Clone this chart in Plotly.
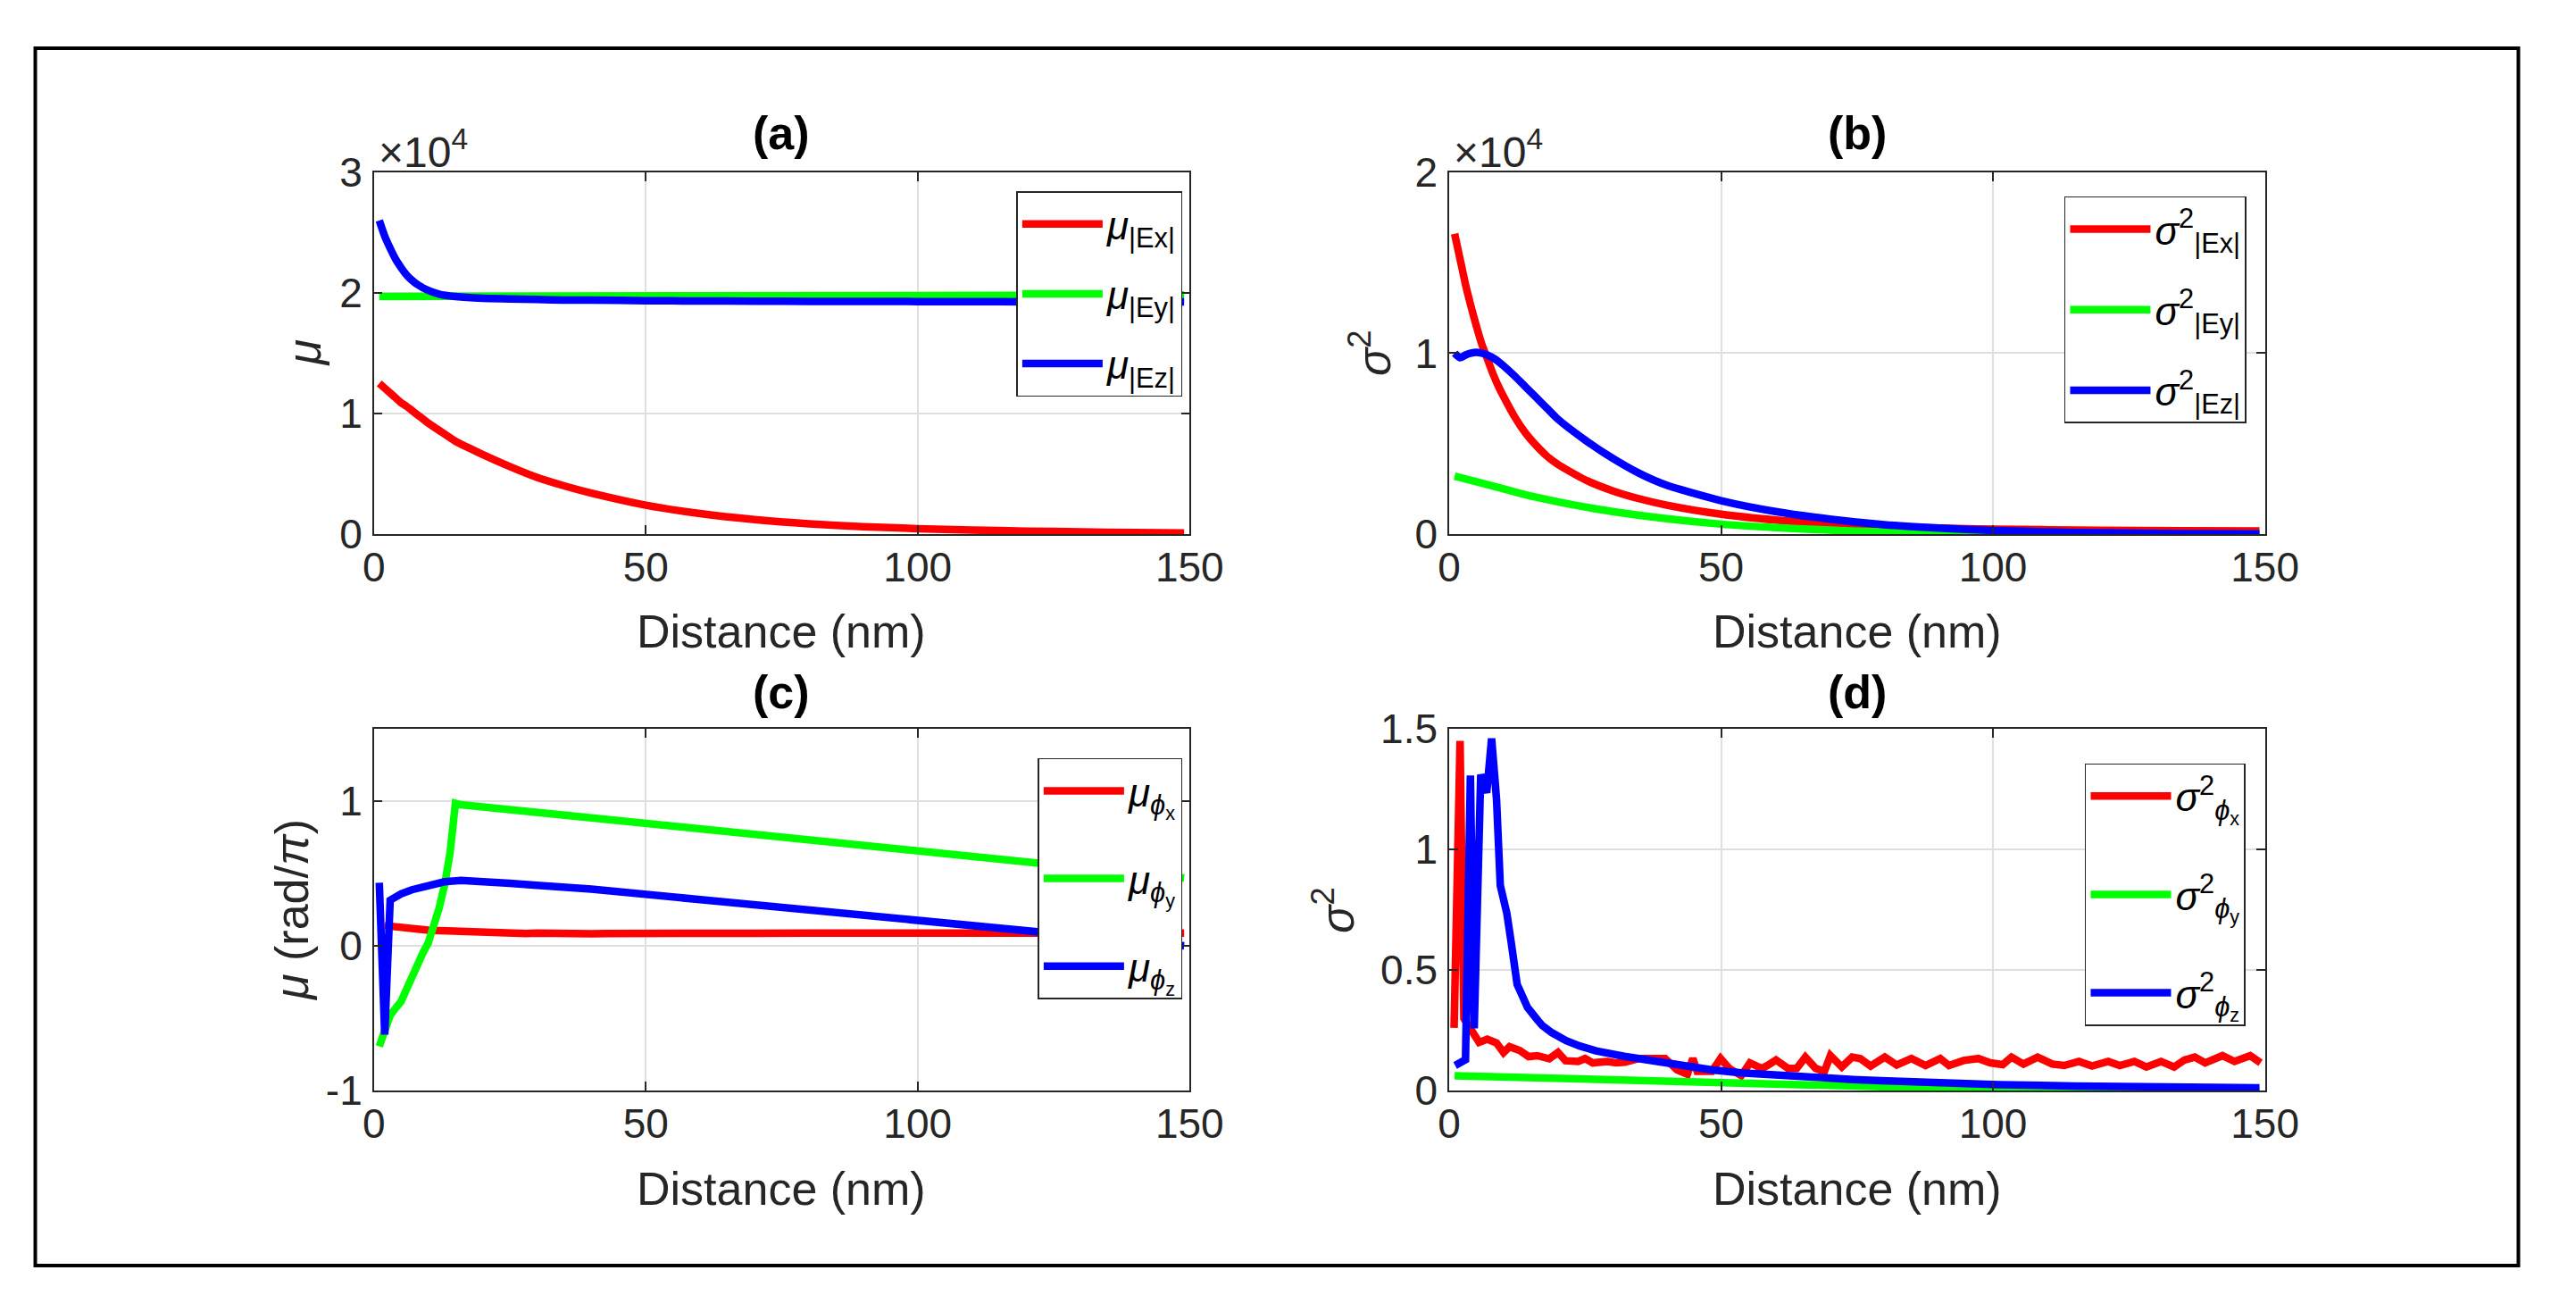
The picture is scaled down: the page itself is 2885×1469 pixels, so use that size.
import plotly.graph_objects as go

W, H = 2885, 1469
FONT = "Liberation Sans, Arial, sans-serif"
AXC = "#262626"

RED, GREEN, BLUE = "#ff0000", "#00ff00", "#0000ff"

## Data

# (a) mean of |E| components (axis labelled in units of 1e4)
x_a = [1, 2, 3, 4, 5, 6, 7, 8, 10, 12, 15, 20, 25, 30, 35, 40, 50, 60, 70, 80, 90, 100, 110, 120, 130, 140, 149]
mu_ex = [12500, 12100, 11700, 11300, 10900, 10600, 10250, 9900, 9200, 8600, 7700, 6600, 5600, 4700, 4000, 3400,
         2400, 1700, 1200, 850, 620, 450, 330, 250, 180, 130, 100]
x_a_ey = [1, 50, 100, 149]
mu_ey = [19700, 19750, 19800, 19820]
mu_ez = [26000, 24700, 23700, 22800, 22100, 21500, 21050, 20700, 20200, 19900, 19700, 19550, 19500, 19450, 19400,
         19400, 19350, 19330, 19310, 19300, 19290, 19280, 19270, 19260, 19250, 19250, 19250]

# (b) variance of |E| components (units of 1e4 on the axis)
x_b = [1, 2, 3, 4, 5, 6, 7, 8, 9, 10, 12, 14, 16, 18, 20, 25, 30, 35, 40, 50, 60, 70, 80, 90, 100, 110, 120, 135, 149]
var_ex = [16600, 15200, 13800, 12600, 11500, 10500, 9700, 8900, 8200, 7600, 6500, 5600, 4900, 4300, 3850, 3000,
          2400, 1950, 1600, 1100, 780, 560, 420, 330, 270, 240, 210, 190, 170]
var_ez = [10000, 9750, 9900, 10000, 10050, 10000, 9900, 9750, 9550, 9300, 8750, 8150, 7550, 6950, 6350, 5200,
          4200, 3350, 2700, 1850, 1250, 830, 520, 330, 200, 120, 70, 30, 10]
x_b_ey = [1, 5, 10, 15, 20, 25, 30, 40, 50, 60, 70, 80, 90, 100, 120, 149]
var_ey = [3200, 2900, 2500, 2100, 1780, 1500, 1250, 850, 550, 360, 220, 120, 60, 20, 0, 0]

# (c) mean phase (rad/pi)
x_c_x = [2, 3, 4, 5, 7, 10, 12, 15, 18, 20, 23, 25, 28, 30, 33, 36, 38, 40, 43, 46, 50, 55, 60, 70, 80, 100, 120, 149]
mu_phx = [0.14, 0.136, 0.13, 0.122, 0.112, 0.108, 0.106, 0.10, 0.096, 0.098, 0.09, 0.092, 0.086, 0.088, 0.083,
          0.082, 0.078, 0.084, 0.086, 0.085, 0.088, 0.086, 0.088, 0.087, 0.088, 0.088, 0.087, 0.088]
x_c_y = [1, 2, 3, 4, 5, 6, 7, 8, 9, 10, 11, 12, 13, 14, 15, 16, 40, 80, 120, 149]
mu_phy = [-0.694, -0.58, -0.48, -0.43, -0.385, -0.30, -0.21, -0.13, -0.05, 0.02, 0.13, 0.26, 0.42, 0.64, 0.985,
          0.975, 0.885, 0.73, 0.58, 0.47]
x_c_z = [1, 2, 3, 4, 5, 7, 10, 13, 16, 20, 25, 30, 40, 60, 80, 100, 120, 140, 149]
mu_phz = [0.436, -0.613, 0.316, 0.342, 0.36, 0.388, 0.422, 0.443, 0.452, 0.447, 0.432, 0.418, 0.392, 0.32, 0.245,
          0.172, 0.103, 0.033, 0.0]

# (d) phase variance
x_d_x = [0.9, 1.4, 2.0, 2.7, 3.5, 4.1, 5.5, 7.0, 8.7, 10.0, 11.1, 13.0, 14.6, 16.2, 18.4, 20.0, 21.4, 23.7, 25.0,
         26.4, 29.1, 30.7, 32.3, 34.9, 37.6, 39.7, 41.9, 43.8, 44.8, 45.6, 48.3, 49.9, 51.5, 53.7, 55.3, 57.5,
         58.5, 60.1, 62.3, 63.9, 65.5, 67.4, 69.0, 70.1, 72.2, 74.1, 75.6, 77.5, 80.1, 82.3, 85.0, 87.6, 90.3,
         91.9, 94.6, 97.3, 99.5, 101.8, 103.4, 105.6, 108.2, 110.9, 113.1, 115.8, 118.2, 121.2, 123.3, 126.0,
         128.2, 130.9, 133.3, 135.2, 137.1, 139.0, 142.2, 144.4, 147.3, 149.2]
var_phx = [0.26, 0.85, 1.45, 0.30, 0.27, 0.25, 0.20, 0.213, 0.198, 0.158, 0.182, 0.166, 0.141, 0.145, 0.132, 0.158,
           0.124, 0.121, 0.133, 0.115, 0.121, 0.115, 0.118, 0.133, 0.137, 0.133, 0.086, 0.068, 0.133, 0.08, 0.08,
           0.133, 0.092, 0.062, 0.115, 0.092, 0.104, 0.127, 0.092, 0.092, 0.139, 0.092, 0.08, 0.145, 0.098, 0.139,
           0.133, 0.102, 0.139, 0.106, 0.133, 0.104, 0.133, 0.104, 0.125, 0.133, 0.115, 0.108, 0.139, 0.11, 0.139,
           0.11, 0.104, 0.121, 0.102, 0.121, 0.104, 0.121, 0.098, 0.121, 0.098, 0.127, 0.139, 0.115, 0.145, 0.121,
           0.145, 0.115]
x_d_y = [1, 10, 20, 30, 40, 50, 60, 70, 80, 90, 100, 112, 125, 149]
var_phy = [0.062, 0.056, 0.05, 0.045, 0.038, 0.031, 0.025, 0.019, 0.014, 0.01, 0.006, 0.003, 0.001, 0.0]
x_d_z = [1.1, 2.0, 3.0, 3.9, 4.6, 5.8, 6.9, 7.8, 8.7, 9.4, 10.6, 11.4, 12.5, 13.3, 14.4, 16.2, 17.1, 18.9, 21.5,
         24, 27, 32.2, 37.7, 43, 48.4, 53.7, 59.1, 64.5, 69.8, 74.3, 79.4, 90, 101.2, 115, 128.2, 140, 149]
var_phz = [0.104, 0.112, 0.128, 1.306, 0.258, 1.31, 1.235, 1.46, 1.21, 0.85, 0.735, 0.615, 0.44, 0.40, 0.345,
           0.294, 0.27, 0.24, 0.207, 0.185, 0.165, 0.142, 0.121, 0.101, 0.086, 0.074, 0.065, 0.056, 0.048, 0.046,
           0.041, 0.031, 0.025, 0.019, 0.015, 0.013, 0.012]

x_ticks = [0, 50, 100, 150]

## Layout geometry (pixels in the 2885x1469 picture)
def px(x):
    return x / W

def py(y):
    return 1 - y / H

col_x = [(413, 1343), (1639, 2569)]
row_y = [(173, 593), (819, 1239)]

LW = 8.5
fig = go.Figure()

panels = [
    # (xaxis, yaxis, legend, traces)
    ("x", "y", "legend", [
        (x_a, mu_ex, RED, "<i>μ</i><sub>|Ex|</sub>", "spline"),
        (x_a_ey, mu_ey, GREEN, "<i>μ</i><sub>|Ey|</sub>", "linear"),
        (x_a, mu_ez, BLUE, "<i>μ</i><sub>|Ez|</sub>", "spline"),
    ]),
    ("x2", "y2", "legend2", [
        (x_b, var_ex, RED, "<i>σ</i><sup>2</sup><sub>|Ex|</sub>", "spline"),
        (x_b_ey, var_ey, GREEN, "<i>σ</i><sup>2</sup><sub>|Ey|</sub>", "spline"),
        (x_b, var_ez, BLUE, "<i>σ</i><sup>2</sup><sub>|Ez|</sub>", "spline"),
    ]),
    ("x3", "y3", "legend3", [
        (x_c_x, mu_phx, RED, "<i>μ</i><sub><i>ϕ</i><sub>x</sub></sub>", "linear"),
        (x_c_y, mu_phy, GREEN, "<i>μ</i><sub><i>ϕ</i><sub>y</sub></sub>", "linear"),
        (x_c_z, mu_phz, BLUE, "<i>μ</i><sub><i>ϕ</i><sub>z</sub></sub>", "linear"),
    ]),
    ("x4", "y4", "legend4", [
        (x_d_x, var_phx, RED, "<i>σ</i><sup>2</sup><sub><i>ϕ</i><sub>x</sub></sub>", "linear"),
        (x_d_y, var_phy, GREEN, "<i>σ</i><sup>2</sup><sub><i>ϕ</i><sub>y</sub></sub>", "linear"),
        (x_d_z, var_phz, BLUE, "<i>σ</i><sup>2</sup><sub><i>ϕ</i><sub>z</sub></sub>", "linear"),
    ]),
]

for xa, ya, leg, traces in panels:
    for i, (xs, ys, c, name, shape) in enumerate(traces):
        fig.add_trace(go.Scatter(x=xs, y=ys, mode="lines", name=name, xaxis=xa, yaxis=ya,
                                 line=dict(color=c, width=LW, shape=shape, smoothing=0.6),
                                 legend=leg, legendgroup=leg + str(i), showlegend=True))

ax_style = dict(showline=True, linecolor=AXC, linewidth=1.5, mirror="allticks", ticks="inside", ticklen=10,
                tickwidth=1.5, tickcolor=AXC, showgrid=True, gridcolor="#dfdfdf", gridwidth=1.5,
                zeroline=False, tickfont=dict(family=FONT, size=46, color=AXC))
xa_style = dict(ticklabelstandoff=-4, **ax_style)
ya_style = dict(ticklabelstandoff=2, **ax_style)

def xdom(c):
    return [px(col_x[c][0]), px(col_x[c][1])]

def ydom(r):
    return [py(row_y[r][1]), py(row_y[r][0])]

layout_axes = dict(
    xaxis=dict(domain=xdom(0), anchor="y", range=[0, 150], tickvals=x_ticks, **xa_style),
    yaxis=dict(domain=ydom(0), anchor="x", range=[0, 30000], tickvals=[0, 10000, 20000, 30000],
               ticktext=["0", "1", "2", "3"], **ya_style),
    xaxis2=dict(domain=xdom(1), anchor="y2", range=[0, 150], tickvals=x_ticks, **xa_style),
    yaxis2=dict(domain=ydom(0), anchor="x2", range=[0, 20000], tickvals=[0, 10000, 20000],
                ticktext=["0", "1", "2"], **ya_style),
    xaxis3=dict(domain=xdom(0), anchor="y3", range=[0, 150], tickvals=x_ticks, **xa_style),
    yaxis3=dict(domain=ydom(1), anchor="x3", range=[-1, 1.5], tickvals=[-1, 0, 1],
                ticktext=["-1", "0", "1"], **ya_style),
    xaxis4=dict(domain=xdom(1), anchor="y4", range=[0, 150], tickvals=x_ticks, **xa_style),
    yaxis4=dict(domain=ydom(1), anchor="x4", range=[0, 1.5], tickvals=[0, 0.5, 1, 1.5],
                ticktext=["0", "0.5", "1", "1.5"], **ya_style),
)

leg_style = dict(xref="paper", yref="paper", xanchor="right", yanchor="top", bgcolor="white",
                 bordercolor=AXC, borderwidth=1.5, font=dict(family=FONT, size=44, color="black"),
                 itemwidth=90)

legends = dict(
    legend=dict(x=px(1335), y=py(195), tracegroupgap=18, **leg_style),
    legend2=dict(x=px(2548), y=py(201), tracegroupgap=30, **leg_style),
    legend3=dict(x=px(1335), y=py(853), tracegroupgap=38, **leg_style),
    legend4=dict(x=px(2547), y=py(859), tracegroupgap=50, **leg_style),
)

annotations = []
titles = ["(a)", "(b)", "(c)", "(d)"]
title_y = [128, 777]
xlab_y = [706, 1353]
ylabs = [("<i>μ</i>", 334), ("<i>σ</i><sup>2</sup>", 1550),
         ("<i>μ</i> (rad/<i>π</i>)", 319), ("<i>σ</i><sup>2</sup>", 1507)]
for k in range(4):
    r, c = divmod(k, 2)
    xc = (col_x[c][0] + col_x[c][1]) / 2
    yc = (row_y[r][0] + row_y[r][1]) / 2
    annotations.append(dict(text="<b>" + titles[k] + "</b>", x=px(xc), y=py(title_y[r]), xref="paper",
                            yref="paper", showarrow=False, xanchor="center", yanchor="middle",
                            font=dict(family=FONT, size=52, color="black")))
    annotations.append(dict(text="Distance (nm)", x=px(xc), y=py(xlab_y[r]), xref="paper", yref="paper",
                            showarrow=False, xanchor="center", yanchor="middle",
                            font=dict(family=FONT, size=52, color=AXC)))
    annotations.append(dict(text=ylabs[k][0], x=px(ylabs[k][1]), y=py(yc), xref="paper", yref="paper",
                            showarrow=False, xanchor="center", yanchor="middle", textangle=-90,
                            font=dict(family=FONT, size=52, color=AXC)))

# exponent labels for the top row
for c in range(2):
    annotations.append(dict(text="×10<sup>4</sup>", x=px(col_x[c][0] + 3), y=py(row_y[0][0] + 6), xref="paper",
                            yref="paper", showarrow=False, xanchor="left", yanchor="bottom",
                            font=dict(family=FONT, size=48, color=AXC)))

fig.update_layout(
    width=W, height=H, margin=dict(l=0, r=0, t=0, b=0),
    paper_bgcolor="white", plot_bgcolor="white",
    annotations=annotations,
    shapes=[dict(type="rect", xref="paper", yref="paper", x0=px(27), x1=px(2858), y0=py(1442), y1=py(29),
                 line=dict(color="black", width=4), fillcolor="rgba(0,0,0,0)")],
    **layout_axes, **legends,
)

fig.write_html("out.html", config={"displayModeBar": False},
               post_script="document.body.style.margin='0px';")
